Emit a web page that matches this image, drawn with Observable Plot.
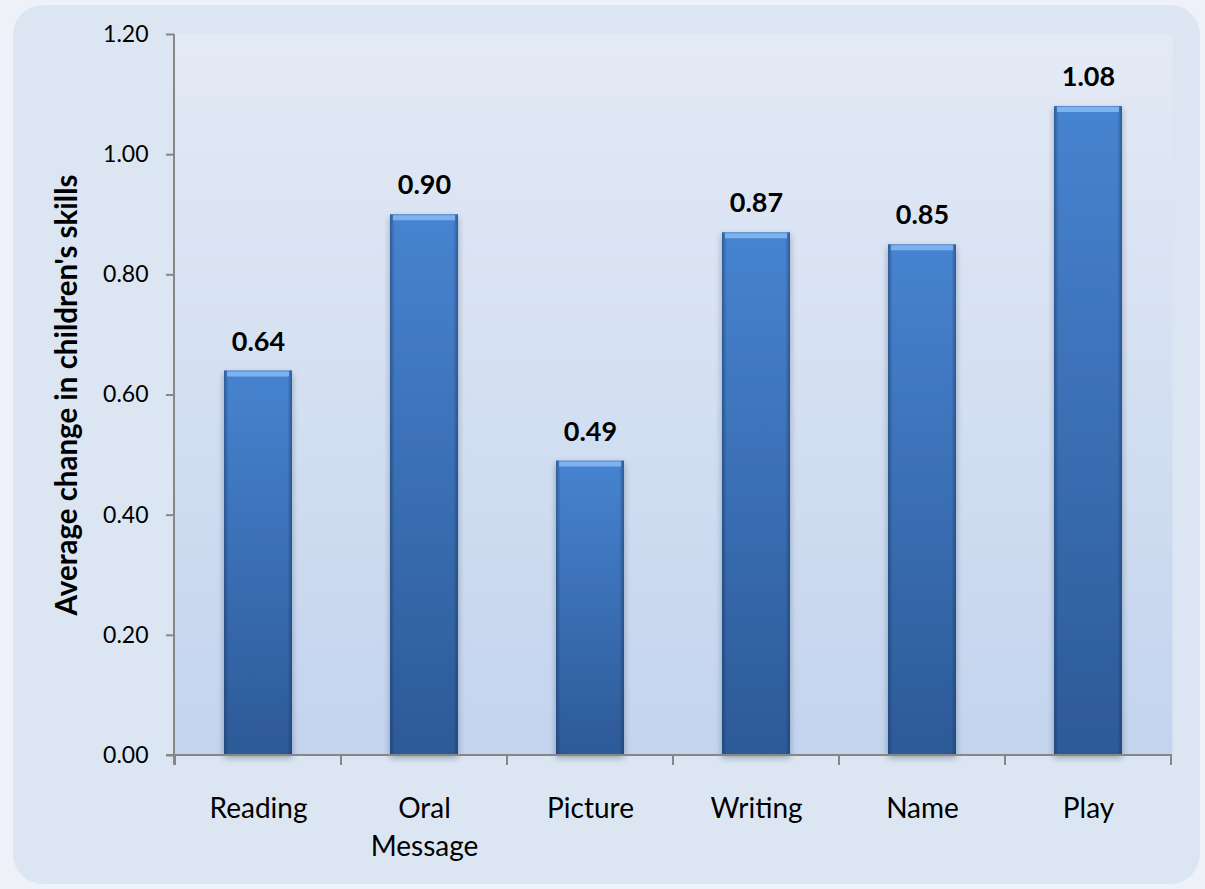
<!DOCTYPE html>
<html><head><meta charset="utf-8">
<script src="https://cdn.jsdelivr.net/npm/d3@7"></script>
<script src="https://cdn.jsdelivr.net/npm/@observablehq/plot@0.6"></script>
<style>
body{margin:0;width:1205px;height:889px;background:#eef1f8;position:relative;overflow:hidden;font-family:Lato,sans-serif}
#panel{position:absolute;left:13px;top:5px;width:1187px;height:879px;background:#dce6f2;border-radius:30px}
#chart{position:absolute;left:0;top:0}
</style></head><body><div id="panel"></div><div id="chart"></div>
<script>
const categories = ["Reading", "Oral\nMessage", "Picture", "Writing", "Name", "Play"];
const values = [0.64, 0.90, 0.49, 0.87, 0.85, 1.08];
const yTicks = [0, 0.2, 0.4, 0.6, 0.8, 1.0, 1.2];
const yLabel = "Average change in children's skills";

const data = categories.map((c, i) => ({category: c, value: values[i]}));

const defs = () => {
  const d = d3.create("svg:defs");
  const bg = d.append("linearGradient").attr("id", "bgGrad").attr("x1", 0).attr("y1", 0).attr("x2", 0).attr("y2", 1);
  bg.append("stop").attr("offset", "0%").attr("stop-color", "#e4eaf5");
  bg.append("stop").attr("offset", "100%").attr("stop-color", "#c3d4ee");
  const bar = d.append("linearGradient").attr("id", "barGrad").attr("x1", 0).attr("y1", 0).attr("x2", 0).attr("y2", 1);
  bar.append("stop").attr("offset", "0%").attr("stop-color", "#4b8ada");
  bar.append("stop").attr("offset", "100%").attr("stop-color", "#2e5d9c");
  const side = d.append("linearGradient").attr("id", "barSide").attr("x1", 0).attr("y1", 0).attr("x2", 1).attr("y2", 0);
  side.append("stop").attr("offset", "0%").attr("stop-color", "#1a3560").attr("stop-opacity", 0.55);
  side.append("stop").attr("offset", "7%").attr("stop-color", "#1a3560").attr("stop-opacity", 0.08);
  side.append("stop").attr("offset", "93%").attr("stop-color", "#1a3560").attr("stop-opacity", 0.08);
  side.append("stop").attr("offset", "100%").attr("stop-color", "#1a3560").attr("stop-opacity", 0.55);
  const f = d.append("filter").attr("id", "barShadow").attr("x", "-20%").attr("y", "-5%").attr("width", "140%").attr("height", "115%");
  f.append("feDropShadow").attr("dx", 0).attr("dy", 3).attr("stdDeviation", 3).attr("flood-color", "#1c2a40").attr("flood-opacity", 0.35);
  return d.node();
};

const axisLines = (index, scales, values, dims) => {
  const x = scales.x, y = scales.y;
  const step = x.step(), bw = x.bandwidth();
  const g = d3.create("svg:g").attr("stroke", "#878787").attr("stroke-width", 2).attr("fill", "none");
  const y0 = y(0);
  g.append("line").attr("x1", dims.marginLeft).attr("x2", dims.marginLeft)
    .attr("y1", dims.marginTop).attr("y2", y0 + 10);
  g.append("line").attr("x1", dims.marginLeft - 8).attr("x2", dims.width - dims.marginRight)
    .attr("y1", y0).attr("y2", y0);
  const bounds = x.domain().map(c => x(c) - (step - bw) / 2);
  bounds.push(x(x.domain()[x.domain().length - 1]) + bw + (step - bw) / 2);
  for (const b of bounds) {
    g.append("line").attr("x1", b).attr("x2", b).attr("y1", y0).attr("y2", y0 + 10);
  }
  return g.node();
};

const chart = Plot.plot({
  width: 1205,
  height: 889,
  marginLeft: 174,
  marginRight: 33,
  marginTop: 34,
  marginBottom: 134,
  style: {background: "transparent", fontFamily: "Lato, sans-serif", color: "#000", overflow: "visible"},
  x: {domain: categories, paddingInner: 0.59, paddingOuter: 0.295, label: null},
  y: {domain: [0, 1.2], label: null},
  marks: [
    defs,
    Plot.frame({fill: "url(#bgGrad)", stroke: "none"}),
    Plot.barY(data, {x: "category", y: "value", fill: "url(#barGrad)"}),
    Plot.barY(data, {x: "category", y: "value", fill: "url(#barSide)"}),
    Plot.tickY(data, {x: "category", y: "value", stroke: "#7eb2ee", strokeWidth: 5, dy: 3, insetLeft: 3, insetRight: 3}),
    axisLines,
    Plot.axisY({ticks: yTicks, tickFormat: d3.format(".2f"), tickSize: 8, tickPadding: 18, fontSize: 23, stroke: "#878787", strokeWidth: 2, label: null}),
    Plot.axisX({tickSize: 0, tickPadding: 35, fontSize: 28, lineHeight: 1.375, label: null}),
    Plot.text(data, {x: "category", y: "value", text: d => d.value.toFixed(2), dy: -29, fontWeight: "bold", fontSize: 27}),
    Plot.text([yLabel], {frameAnchor: "left", textAnchor: "middle", rotate: -90, dx: -107, fontWeight: "bold", fontSize: 29.5})
  ]
});
const firstBar = chart.querySelector('g[aria-label="bar"]');
if (firstBar) firstBar.setAttribute("filter", "url(#barShadow)");
document.getElementById("chart").appendChild(chart);
</script></body></html>
